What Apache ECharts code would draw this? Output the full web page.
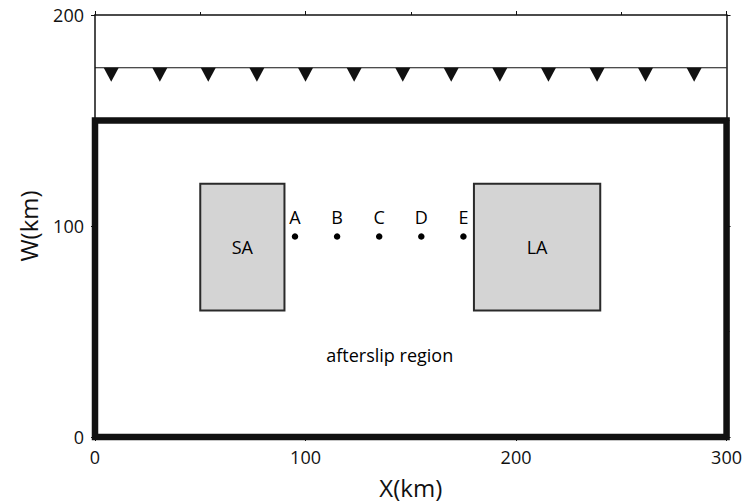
<!DOCTYPE html>
<html>
<head>
<meta charset="utf-8">
<script src="https://cdn.jsdelivr.net/npm/echarts@6/dist/echarts.min.js"></script>
<style>html,body{margin:0;padding:0;background:#fff;}#c{width:745px;height:504px;}</style>
</head>
<body>
<div id="c"></div>
<script>
// Data (units: km)
var regionOutline = [[0, 0], [300, 0], [300, 150], [0, 150], [0, 0]];
var trenchLine = [[0, 175], [300, 175]];
var trenchTriangleX = [7.7, 30.8, 53.8, 76.9, 100, 123.1, 146.2, 169.2, 192.3, 215.4, 238.5, 261.5, 284.6];
var trenchY = 175;
var boxNames = ['SA', 'LA'];
var boxX0 = [50, 180];
var boxX1 = [90, 240];
var boxY0 = [60, 60];
var boxY1 = [120, 120];
var pointNames = ['A', 'B', 'C', 'D', 'E'];
var pointX = [95, 115, 135, 155, 175];
var pointY = [95, 95, 95, 95, 95];
var regionLabel = ['afterslip region'];
var regionLabelPos = [[140, 39]];
var xTicks = [0, 100, 200, 300];
var yTicks = [0, 100, 200];

var FONT = '"Open Sans", "DejaVu Sans", sans-serif';
var INK = '#111111';

var chart = echarts.init(document.getElementById('c'), null, {renderer: 'svg'});

var boxData = boxNames.map(function (n, i) { return [boxX0[i], boxY0[i], boxX1[i], boxY1[i], n]; });
var pointData = pointNames.map(function (n, i) { return {name: n, value: [pointX[i], pointY[i]]}; });
var triData = trenchTriangleX.map(function (x) { return [x, trenchY]; });
var textData = regionLabel.map(function (t, i) { return {name: t, value: regionLabelPos[i]}; });

function axisCommon(showLabel) {
  return {
    type: 'value',
    axisLine: {show: true, onZero: false, lineStyle: {color: INK, width: 1.5}},
    axisTick: {show: true, inside: false, length: 4, lineStyle: {color: INK, width: 1}},
    minorTick: {show: true, splitNumber: 2, length: 3, lineStyle: {color: INK, width: 1}},
    splitLine: {show: false},
    axisLabel: {show: showLabel, color: INK, fontFamily: FONT, fontSize: 18, margin: 11},
  };
}

var xBottom = Object.assign(axisCommon(true), {
  position: 'bottom', min: 0, max: 300, interval: 100,
  name: 'X(km)', nameLocation: 'middle', nameGap: 38,
  nameTextStyle: {color: INK, fontFamily: FONT, fontSize: 24}
});
var xTop = Object.assign(axisCommon(false), {position: 'top', min: 0, max: 300, interval: 100});
var yLeft = Object.assign(axisCommon(true), {
  position: 'left', min: 0, max: 200, interval: 100,
  name: 'W(km)', nameLocation: 'middle', nameGap: 55, nameRotate: 90,
  nameTextStyle: {color: INK, fontFamily: FONT, fontSize: 24}
});
var yRight = Object.assign(axisCommon(false), {position: 'right', min: 0, max: 200, interval: 100});

chart.setOption({
  animation: false,
  backgroundColor: '#fff',
  grid: {left: 95, right: 17, top: 15, bottom: 67, containLabel: false},
  xAxis: [xBottom, xTop],
  yAxis: [yLeft, yRight],
  series: [
    {
      type: 'line', data: trenchLine, symbol: 'none', clip: false,
      lineStyle: {color: INK, width: 1.2}, z: 3
    },
    {
      type: 'scatter', data: triData,
      symbol: 'path://M0,0 L10,0 L5,10 Z', symbolSize: [15, 14], symbolOffset: [0, 7],
      itemStyle: {color: INK, opacity: 1}, z: 4
    },
    {
      type: 'custom', data: boxData, clip: false, z: 5,
      renderItem: function (params, api) {
        var p0 = api.coord([api.value(0), api.value(3)]);
        var p1 = api.coord([api.value(2), api.value(1)]);
        var name = boxNames[params.dataIndex];
        return {
          type: 'group',
          children: [
            {type: 'rect', shape: {x: p0[0], y: p0[1], width: p1[0] - p0[0], height: p1[1] - p0[1]},
             style: {fill: '#d4d4d4', stroke: '#2a2a2a', lineWidth: 2}},
            {type: 'text', x: (p0[0] + p1[0]) / 2, y: (p0[1] + p1[1]) / 2,
             style: {text: name, fill: '#000', font: '18px ' + FONT, align: 'center', verticalAlign: 'middle'}}
          ]
        };
      }
    },
    {
      type: 'scatter', data: pointData, symbol: 'circle', symbolSize: 6.5,
      itemStyle: {color: '#000', opacity: 1}, z: 6,
      label: {show: true, position: 'top', distance: 7, formatter: '{b}', color: '#000', fontFamily: FONT, fontSize: 18}
    },
    {
      type: 'scatter', data: textData, symbolSize: 0, z: 6,
      itemStyle: {opacity: 1},
      label: {show: true, position: 'inside', formatter: '{b}', color: '#000', fontFamily: FONT, fontSize: 18}
    },
    {
      type: 'line', data: regionOutline, symbol: 'none', clip: false,
      lineStyle: {color: INK, width: 6.5, join: 'miter', cap: 'square'}, z: 10
    }
  ]
});
</script>
</body>
</html>
